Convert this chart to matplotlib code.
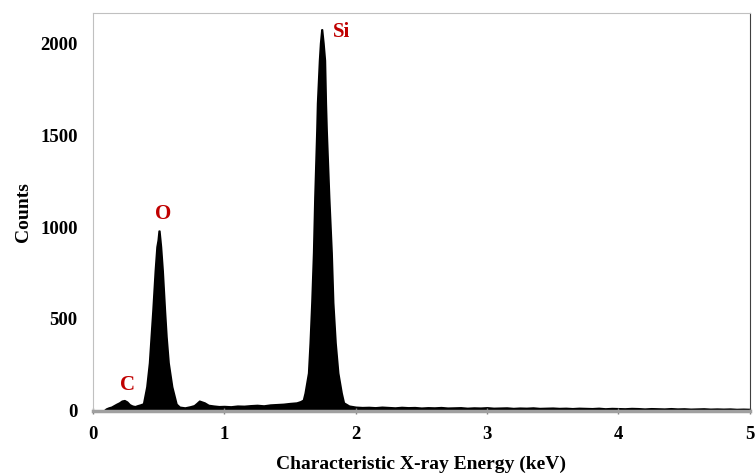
import matplotlib.pyplot as plt

# EDS spectrum (energy in keV, counts)
energy = [0.00, 0.08, 0.10, 0.12, 0.14, 0.16, 0.18, 0.20, 0.22, 0.24, 0.26,
          0.28, 0.30, 0.32, 0.34, 0.36, 0.383, 0.408, 0.428, 0.441, 0.454,
          0.472, 0.485, 0.494, 0.501, 0.506, 0.513, 0.518, 0.531, 0.548,
          0.560, 0.576, 0.603, 0.636, 0.66, 0.70, 0.74, 0.77, 0.79, 0.81,
          0.83, 0.85, 0.88, 0.92, 0.96, 1.00, 1.05, 1.10, 1.15, 1.20, 1.25,
          1.30, 1.35, 1.40, 1.45, 1.50, 1.55, 1.58, 1.60, 1.613, 1.639, 1.651,
          1.664, 1.677, 1.687, 1.702, 1.707, 1.722, 1.730, 1.740, 1.744,
          1.755, 1.766, 1.773, 1.779, 1.798, 1.817, 1.829, 1.847, 1.867,
          1.893, 1.91, 1.95,
          2.00, 2.05, 2.10, 2.15, 2.20, 2.25, 2.30, 2.35, 2.40, 2.45, 2.50,
          2.55, 2.60, 2.65, 2.70, 2.75, 2.80, 2.85, 2.90, 2.95, 3.00, 3.05,
          3.10, 3.15, 3.20, 3.25, 3.30, 3.35, 3.40, 3.45, 3.50, 3.55, 3.60,
          3.65, 3.70, 3.75, 3.80, 3.85, 3.90, 3.95, 4.00, 4.05, 4.10, 4.15,
          4.20, 4.25, 4.30, 4.35, 4.40, 4.45, 4.50, 4.55, 4.60, 4.65, 4.70,
          4.75, 4.80, 4.85, 4.90, 4.95, 5.00]
counts = [0, 0, 12, 18, 22, 30, 38, 45, 55, 58, 50,
          35, 28, 25, 30, 34, 40, 132, 262, 404, 545,
          763, 893, 930, 980, 980, 930, 893, 763, 545,
          404, 262, 132, 38, 22, 18, 24, 30, 42, 55,
          50, 45, 32, 28, 25, 26, 24, 28, 27, 30, 32,
          29, 34, 36, 38, 42, 45, 52, 60, 98, 207, 370,
          589, 861, 1166, 1526, 1673, 1907, 2000, 2075, 2075,
          2000, 1907, 1673, 1526, 1166, 861, 589, 370, 207,
          98, 45, 28,
          22, 20, 21, 19, 22, 20, 18, 21, 19, 20, 17,
          19, 18, 20, 17, 18, 19, 16, 18, 17, 19, 16,
          17, 18, 15, 17, 16, 18, 15, 16, 17, 15, 16,
          14, 16, 15, 14, 16, 13, 15, 14, 13, 15, 14,
          12, 14, 13, 12, 14, 12, 13, 11, 12, 13, 11,
          12, 11, 12, 10, 11, 10]

peak_names = ["C", "O", "Si"]
peak_x = [0.265, 0.535, 1.89]
peak_y = [140, 1070, 2060]

serif = ["Liberation Serif", "DejaVu Serif"]
plt.rcParams["font.family"] = serif
plt.rcParams["font.weight"] = "bold"

fig = plt.figure(figsize=(7.55, 4.75), dpi=100)
ax = fig.add_axes([0.123, 0.135, 0.870, 0.838])

ax.fill_between(energy, counts, 0, color="black", lw=1.2, edgecolor="black")

for name, x, y in zip(peak_names, peak_x, peak_y):
    ax.text(x, y, name, color="#C00000", fontsize=15, fontweight="bold",
            ha="center", va="center")

ax.set_xlim(0, 5)
ax.set_ylim(0, 2165)
ax.set_xticks([0, 1, 2, 3, 4, 5])
ax.set_yticks([0, 500, 1000, 1500, 2000])
ax.tick_params(axis="x", direction="inout", length=4, width=1, color="#808080",
               labelsize=13.5, pad=9)
ax.tick_params(axis="y", length=0, labelsize=13.5, pad=11)

ax.set_xlabel("Characteristic X-ray Energy (keV)", fontsize=14,
              fontweight="bold", labelpad=9)
ax.set_ylabel("Counts", fontsize=14, fontweight="bold", labelpad=6)

ax.spines["top"].set_color("#c0c0c0")
ax.spines["left"].set_color("#c0c0c0")
ax.spines["right"].set_color("#404040")
ax.spines["bottom"].set_color("#a0a0a0")
ax.spines["bottom"].set_linewidth(2.5)

fig.savefig("out.png", dpi=100)
